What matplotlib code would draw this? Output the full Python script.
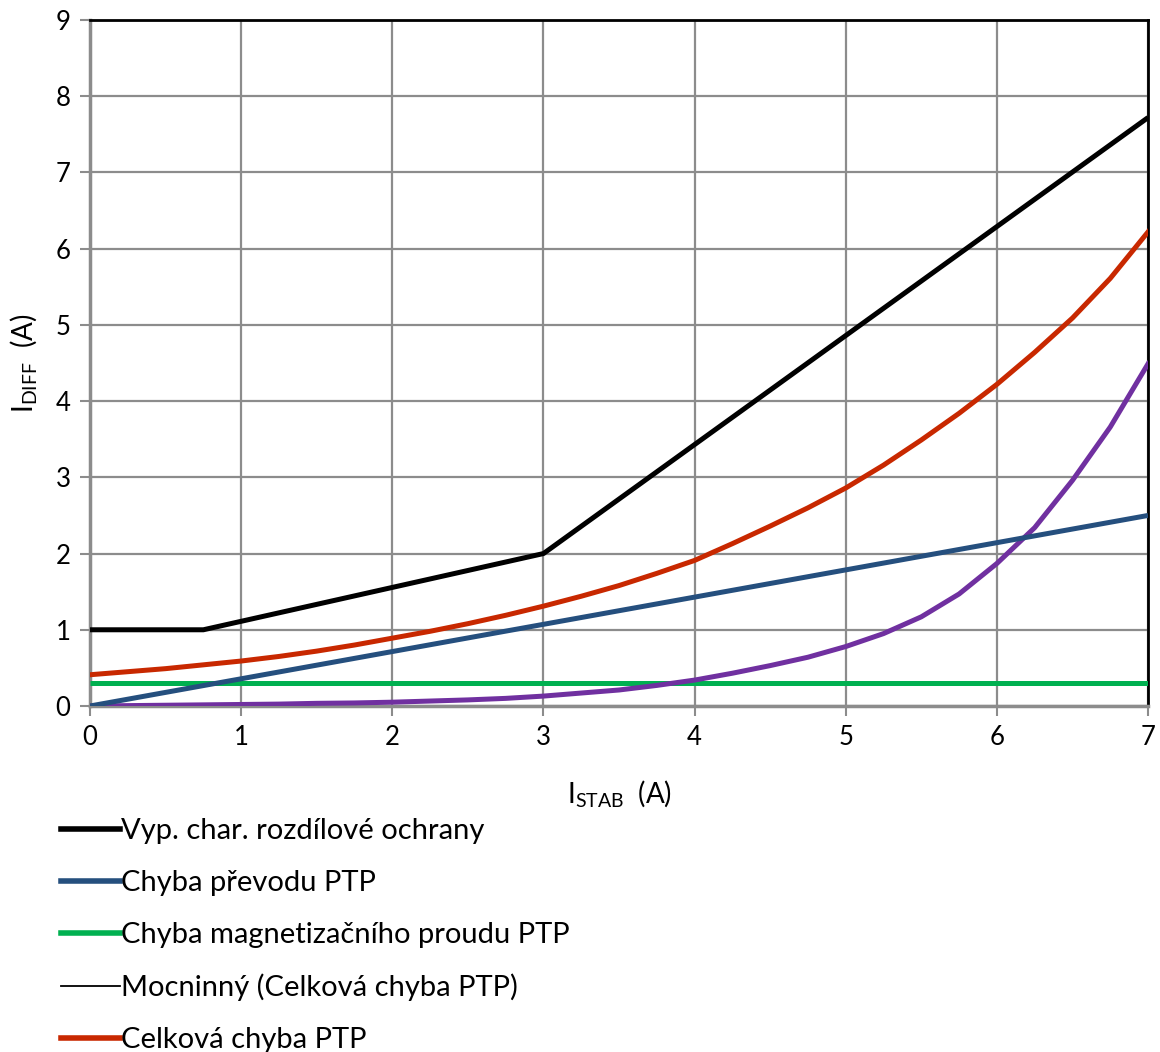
import numpy as np
import matplotlib
matplotlib.use('Agg')
import matplotlib.pyplot as plt
from matplotlib.lines import Line2D

plt.rcParams['font.family'] = ['Lato', 'DejaVu Sans']
plt.rcParams['mathtext.fontset'] = 'custom'
plt.rcParams['mathtext.rm'] = 'Lato'

# characteristic of the differential protection
char_x = [0, 0.75, 3, 7]
char_y = [1.0, 1.0, 2.0, 7.72]

# CT ratio error (linear)
ratio_x = [0, 7]
ratio_y = [0.0, 2.5]

# magnetizing current error (constant)
mag_x = [0, 7]
mag_y = [0.3, 0.3]

x_pts = [0, 0.25, 0.5, 0.75, 1, 1.25, 1.5, 1.75, 2, 2.25, 2.5, 2.75, 3, 3.25, 3.5,
         3.75, 4, 4.25, 4.5, 4.75, 5, 5.25, 5.5, 5.75, 6, 6.25, 6.5, 6.75, 7]
total_y = [0.41, 0.45, 0.49, 0.54, 0.59, 0.65, 0.72, 0.80, 0.89, 0.98, 1.08, 1.19, 1.31, 1.44, 1.58,
           1.74, 1.91, 2.13, 2.36, 2.60, 2.86, 3.16, 3.49, 3.84, 4.22, 4.64, 5.09, 5.61, 6.22]
purple_y = [0.0, 0.005, 0.01, 0.015, 0.02, 0.025, 0.035, 0.04, 0.05, 0.065, 0.08, 0.10, 0.13, 0.17, 0.21,
            0.27, 0.34, 0.43, 0.53, 0.64, 0.78, 0.95, 1.17, 1.47, 1.87, 2.34, 2.96, 3.66, 4.49]

labels = ['Vyp. char. rozdílové ochrany', 'Chyba převodu PTP',
          'Chyba magnetizačního proudu PTP', 'Mocninný (Celková chyba PTP)',
          'Celková chyba PTP']

c_black = 'black'
c_blue = '#254f7e'
c_green = '#00b050'
c_red = '#c82800'
c_purple = '#7030a0'

fig = plt.figure(figsize=(11.6, 10.52), dpi=100)
ax = fig.add_axes([0.0776, 0.3289, 0.9121, 0.6521])

lw = 3.6
ax.plot(mag_x, mag_y, color=c_green, lw=lw, solid_capstyle='butt', zorder=3)
ax.plot(x_pts, purple_y, color=c_purple, lw=lw, zorder=3)
ax.plot(ratio_x, ratio_y, color=c_blue, lw=lw, solid_capstyle='butt', zorder=4)
ax.plot(x_pts, total_y, color=c_red, lw=lw, zorder=4)
ax.plot(char_x, char_y, color=c_black, lw=lw, solid_capstyle='butt', zorder=5)

ax.set_xlim(0, 7)
ax.set_ylim(0, 9)
ax.set_xticks(range(0, 8))
ax.set_yticks(range(0, 10))
ax.grid(True, color='#8c8c8c', lw=1.6)
ax.set_axisbelow(True)

for s in ['top', 'right']:
    ax.spines[s].set_color('black')
    ax.spines[s].set_linewidth(2)
for s in ['left', 'bottom']:
    ax.spines[s].set_color('#8c8c8c')
    ax.spines[s].set_linewidth(2.5)

ax.tick_params(axis='both', which='major', labelsize=18.5, length=7, width=1.5,
               color='#8c8c8c', direction='out', pad=7)

ax.set_xlabel(r'$\mathregular{I_{STAB}}$  (A)', fontsize=20, labelpad=20)
ax.set_ylabel(r'$\mathregular{I_{DIFF}}$  (A)', fontsize=20, labelpad=12)

handles = [Line2D([], [], color=c_black, lw=4),
           Line2D([], [], color=c_blue, lw=4),
           Line2D([], [], color=c_green, lw=4),
           Line2D([], [], color=c_black, lw=1.3),
           Line2D([], [], color=c_red, lw=4)]
fig.legend(handles, labels, loc='upper left', bbox_to_anchor=(0.053, 0.222),
           frameon=False, fontsize=21, handlelength=2.0, handletextpad=0.05,
           labelspacing=0.88, borderaxespad=0, borderpad=0)

fig.savefig('out.png', dpi=100)
